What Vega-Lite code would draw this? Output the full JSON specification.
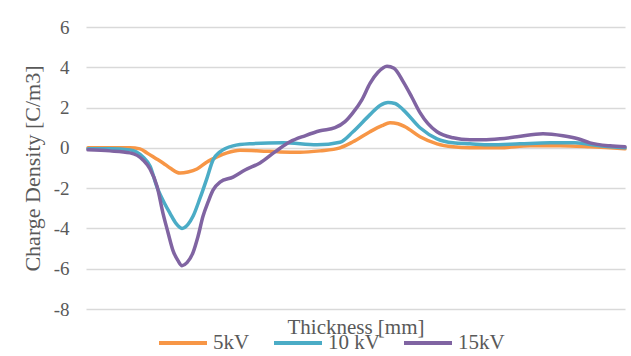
{
  "$schema": "https://vega.github.io/schema/vega-lite/v6.json",
  "width": 539,
  "height": 282,
  "autosize": {"type": "none"},
  "padding": {"left": 86, "top": 27, "right": 6, "bottom": 47},
  "background": "white",
  "config": {"view": {"stroke": null}, "font": "Liberation Serif, Times New Roman, serif"},
  "data": {"values": [
    {"x": 0.02, "s": "5kV", "v": 0.0},
    {"x": 0.24, "s": "5kV", "v": 0.0},
    {"x": 0.44, "s": "5kV", "v": 0.0},
    {"x": 0.54, "s": "5kV", "v": -0.05},
    {"x": 0.61, "s": "5kV", "v": -0.25},
    {"x": 0.69, "s": "5kV", "v": -0.5},
    {"x": 0.77, "s": "5kV", "v": -0.75},
    {"x": 0.84, "s": "5kV", "v": -1.0},
    {"x": 0.94, "s": "5kV", "v": -1.25},
    {"x": 1.02, "s": "5kV", "v": -1.2},
    {"x": 1.11, "s": "5kV", "v": -1.05},
    {"x": 1.21, "s": "5kV", "v": -0.7},
    {"x": 1.31, "s": "5kV", "v": -0.45},
    {"x": 1.41, "s": "5kV", "v": -0.25},
    {"x": 1.54, "s": "5kV", "v": -0.12},
    {"x": 1.74, "s": "5kV", "v": -0.15},
    {"x": 1.94, "s": "5kV", "v": -0.2},
    {"x": 2.14, "s": "5kV", "v": -0.22},
    {"x": 2.34, "s": "5kV", "v": -0.15},
    {"x": 2.54, "s": "5kV", "v": 0.0},
    {"x": 2.67, "s": "5kV", "v": 0.3},
    {"x": 2.84, "s": "5kV", "v": 0.8},
    {"x": 2.96, "s": "5kV", "v": 1.1},
    {"x": 3.04, "s": "5kV", "v": 1.25},
    {"x": 3.12, "s": "5kV", "v": 1.2},
    {"x": 3.19, "s": "5kV", "v": 1.05},
    {"x": 3.34, "s": "5kV", "v": 0.55},
    {"x": 3.51, "s": "5kV", "v": 0.2},
    {"x": 3.67, "s": "5kV", "v": 0.05},
    {"x": 3.84, "s": "5kV", "v": 0.0},
    {"x": 4.14, "s": "5kV", "v": 0.0},
    {"x": 4.44, "s": "5kV", "v": 0.1},
    {"x": 4.74, "s": "5kV", "v": 0.1},
    {"x": 5.04, "s": "5kV", "v": 0.05},
    {"x": 5.24, "s": "5kV", "v": 0.0},
    {"x": 5.39, "s": "5kV", "v": -0.05},

    {"x": 0.02, "s": "10 kV", "v": -0.05},
    {"x": 0.24, "s": "10 kV", "v": -0.05},
    {"x": 0.44, "s": "10 kV", "v": -0.1},
    {"x": 0.57, "s": "10 kV", "v": -0.45},
    {"x": 0.64, "s": "10 kV", "v": -0.9},
    {"x": 0.71, "s": "10 kV", "v": -1.95},
    {"x": 0.79, "s": "10 kV", "v": -2.8},
    {"x": 0.84, "s": "10 kV", "v": -3.25},
    {"x": 0.9, "s": "10 kV", "v": -3.75},
    {"x": 0.96, "s": "10 kV", "v": -4.0},
    {"x": 1.02, "s": "10 kV", "v": -3.8},
    {"x": 1.07, "s": "10 kV", "v": -3.4},
    {"x": 1.14, "s": "10 kV", "v": -2.5},
    {"x": 1.21, "s": "10 kV", "v": -1.5},
    {"x": 1.27, "s": "10 kV", "v": -0.6},
    {"x": 1.34, "s": "10 kV", "v": -0.2},
    {"x": 1.47, "s": "10 kV", "v": 0.1},
    {"x": 1.64, "s": "10 kV", "v": 0.2},
    {"x": 1.97, "s": "10 kV", "v": 0.25},
    {"x": 2.31, "s": "10 kV", "v": 0.15},
    {"x": 2.54, "s": "10 kV", "v": 0.28},
    {"x": 2.67, "s": "10 kV", "v": 0.8},
    {"x": 2.84, "s": "10 kV", "v": 1.65},
    {"x": 2.94, "s": "10 kV", "v": 2.1},
    {"x": 3.02, "s": "10 kV", "v": 2.25},
    {"x": 3.09, "s": "10 kV", "v": 2.2},
    {"x": 3.17, "s": "10 kV", "v": 1.9},
    {"x": 3.34, "s": "10 kV", "v": 1.0},
    {"x": 3.51, "s": "10 kV", "v": 0.45},
    {"x": 3.67, "s": "10 kV", "v": 0.25},
    {"x": 3.84, "s": "10 kV", "v": 0.2},
    {"x": 4.04, "s": "10 kV", "v": 0.15},
    {"x": 4.34, "s": "10 kV", "v": 0.2},
    {"x": 4.64, "s": "10 kV", "v": 0.25},
    {"x": 4.89, "s": "10 kV", "v": 0.25},
    {"x": 5.14, "s": "10 kV", "v": 0.1},
    {"x": 5.39, "s": "10 kV", "v": 0.0},

    {"x": 0.02, "s": "15kV", "v": -0.1},
    {"x": 0.24, "s": "15kV", "v": -0.15},
    {"x": 0.44, "s": "15kV", "v": -0.25},
    {"x": 0.57, "s": "15kV", "v": -0.6},
    {"x": 0.64, "s": "15kV", "v": -1.05},
    {"x": 0.71, "s": "15kV", "v": -1.9},
    {"x": 0.77, "s": "15kV", "v": -3.25},
    {"x": 0.82, "s": "15kV", "v": -4.2},
    {"x": 0.87, "s": "15kV", "v": -5.1},
    {"x": 0.92, "s": "15kV", "v": -5.6},
    {"x": 0.96, "s": "15kV", "v": -5.85},
    {"x": 1.01, "s": "15kV", "v": -5.7},
    {"x": 1.07, "s": "15kV", "v": -5.2},
    {"x": 1.12, "s": "15kV", "v": -4.4},
    {"x": 1.17, "s": "15kV", "v": -3.4},
    {"x": 1.22, "s": "15kV", "v": -2.7},
    {"x": 1.27, "s": "15kV", "v": -2.1},
    {"x": 1.34, "s": "15kV", "v": -1.7},
    {"x": 1.47, "s": "15kV", "v": -1.45},
    {"x": 1.59, "s": "15kV", "v": -1.1},
    {"x": 1.74, "s": "15kV", "v": -0.75},
    {"x": 1.89, "s": "15kV", "v": -0.2},
    {"x": 2.04, "s": "15kV", "v": 0.3},
    {"x": 2.19, "s": "15kV", "v": 0.6},
    {"x": 2.34, "s": "15kV", "v": 0.85},
    {"x": 2.49, "s": "15kV", "v": 1.0},
    {"x": 2.59, "s": "15kV", "v": 1.3},
    {"x": 2.67, "s": "15kV", "v": 1.75},
    {"x": 2.76, "s": "15kV", "v": 2.4},
    {"x": 2.84, "s": "15kV", "v": 3.2},
    {"x": 2.92, "s": "15kV", "v": 3.75},
    {"x": 3.01, "s": "15kV", "v": 4.05},
    {"x": 3.08, "s": "15kV", "v": 3.95},
    {"x": 3.17, "s": "15kV", "v": 3.3},
    {"x": 3.26, "s": "15kV", "v": 2.5},
    {"x": 3.34, "s": "15kV", "v": 1.75},
    {"x": 3.42, "s": "15kV", "v": 1.2},
    {"x": 3.51, "s": "15kV", "v": 0.8},
    {"x": 3.67, "s": "15kV", "v": 0.5},
    {"x": 3.84, "s": "15kV", "v": 0.4},
    {"x": 3.97, "s": "15kV", "v": 0.4},
    {"x": 4.14, "s": "15kV", "v": 0.45},
    {"x": 4.31, "s": "15kV", "v": 0.55},
    {"x": 4.57, "s": "15kV", "v": 0.7},
    {"x": 4.77, "s": "15kV", "v": 0.6},
    {"x": 4.92, "s": "15kV", "v": 0.45},
    {"x": 5.04, "s": "15kV", "v": 0.25},
    {"x": 5.24, "s": "15kV", "v": 0.1},
    {"x": 5.39, "s": "15kV", "v": 0.05}
  ]},
  "mark": {"type": "line", "interpolate": "monotone", "strokeWidth": 3.5, "strokeCap": "round", "strokeJoin": "round"},
  "encoding": {
    "x": {
      "field": "x", "type": "quantitative",
      "scale": {"domain": [0, 5.39], "nice": false, "zero": false},
      "axis": {
        "grid": false, "labels": false, "ticks": false, "domain": false,
        "title": "Thickness [mm]",
        "titleFontSize": 21, "titleFontWeight": "normal",
        "titleColor": "#595959", "titleBaseline": "alphabetic", "titleY": 24
      }
    },
    "y": {
      "field": "v", "type": "quantitative",
      "scale": {"domain": [-8, 6], "nice": false},
      "axis": {
        "values": [-8, -6, -4, -2, 0, 2, 4, 6],
        "labelExpr": "'' + datum.value",
        "grid": true, "gridColor": "#d9d9d9", "gridWidth": 1.3,
        "ticks": false, "domain": false,
        "labelFontSize": 19, "labelColor": "#595959", "labelPadding": 17,
        "title": "Charge Density [C/m3]",
        "titleFontSize": 22, "titleFontWeight": "normal",
        "titleColor": "#595959", "titleAngle": -90, "titleX": -54, "titleY": 141,
        "titleAlign": "center", "titleBaseline": "middle"
      }
    },
    "color": {
      "field": "s", "type": "nominal",
      "sort": ["5kV", "10 kV", "15kV"],
      "scale": {"domain": ["5kV", "10 kV", "15kV"], "range": ["#F79646", "#4BACC6", "#8064A2"]},
      "legend": {
        "orient": "none", "legendX": 71, "legendY": 290, "direction": "horizontal",
        "title": null, "padding": 0,
        "symbolType": "stroke", "symbolSize": 2304, "symbolStrokeWidth": 4,
        "labelFontSize": 21, "labelColor": "#595959",
        "labelOffset": 4, "columnPadding": 16
      }
    }
  }
}
